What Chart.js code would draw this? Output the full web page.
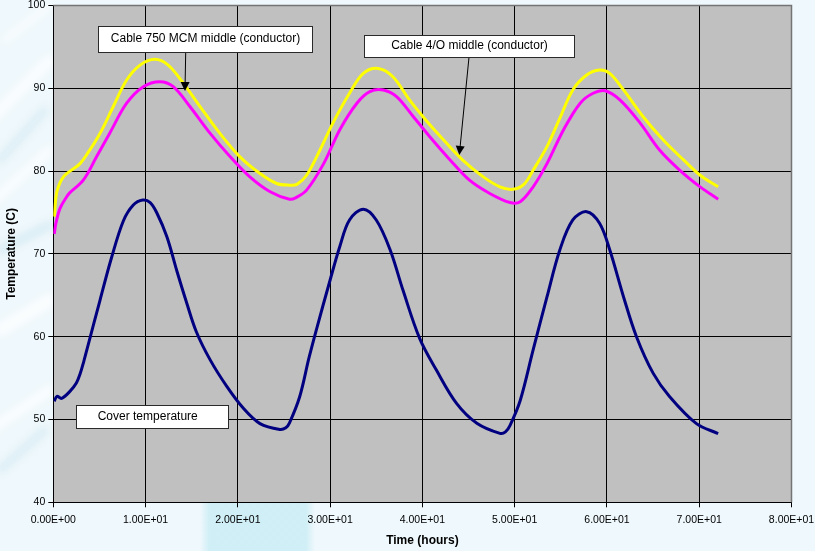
<!DOCTYPE html>
<html>
<head>
<meta charset="utf-8">
<title>Cable temperatures</title>
<script src="https://cdn.jsdelivr.net/npm/chart.js@4"></script>
<style>
  html, body { margin: 0; padding: 0; background: #eff8fc; }
  #wrap { width: 815px; height: 551px; position: relative; }
</style>
</head>
<body>
<div id="wrap"><canvas id="chart"></canvas></div>
<script>
// Cover temperature (C) against time (hours)
const coverTime = [0.1, 0.4, 0.9, 1.8, 2.5, 2.9, 3.3, 3.8, 5.06, 6.3, 7.6, 8.67, 9.7, 10.5, 11.2, 12.3, 13.4, 14.45, 15.5, 17.0, 18.8, 20.6, 22.4, 24.55, 25.2, 25.6, 26.7, 27.7, 28.5, 30.0, 31.05, 32.1, 33.6, 35.0, 36.5, 37.9, 39.7, 41.5, 43.7, 45.9, 48.4, 49.0, 49.5, 50.6, 52.0, 53.5, 54.9, 56.3, 57.8, 59.2, 60.3, 61.8, 63.2, 65.0, 66.8, 69.7, 72.05];
const coverTemp = [52.2, 52.8, 52.55, 53.4, 54.4, 55.5, 57.0, 59.1, 64.4, 69.5, 74.0, 75.9, 76.5, 76.2, 75.0, 72.1, 67.9, 64.1, 60.6, 57.2, 54.0, 51.35, 49.5, 48.8, 49.0, 49.6, 52.75, 57.4, 60.8, 66.85, 70.9, 74.1, 75.4, 74.1, 70.5, 65.6, 59.8, 56.0, 51.95, 49.55, 48.33, 48.5, 49.3, 52.3, 58.4, 64.8, 70.5, 74.1, 75.1, 73.7, 70.5, 64.8, 60.0, 55.6, 52.75, 49.5, 48.3];

// Cable 750 MCM, middle of the conductor
const mcmTime = [0.1, 0.35, 0.73, 1.1, 1.45, 2.2, 2.9, 3.6, 5.06, 6.5, 7.95, 9.4, 11.0, 12.45, 14.1, 15.9, 18.06, 20.2, 22.4, 24.2, 25.6, 26.4, 27.45, 28.9, 30.3, 32.1, 33.6, 35.2, 36.8, 38.6, 40.5, 42.3, 44.4, 46.6, 48.4, 49.8, 51.0, 52.0, 53.5, 54.9, 56.3, 57.8, 59.2, 60.3, 61.8, 63.9, 66.1, 68.3, 70.1, 72.05];
const mcmTemp = [74.5, 77.3, 78.6, 79.3, 79.7, 80.3, 80.9, 81.95, 84.55, 87.8, 91.0, 92.8, 93.5, 92.8, 90.6, 87.8, 84.55, 81.75, 79.7, 78.5, 78.3, 78.4, 79.5, 82.55, 85.8, 89.4, 91.8, 92.4, 91.4, 88.6, 86.0, 83.75, 81.3, 79.3, 78.1, 77.8, 78.4, 80.1, 82.95, 86.4, 89.8, 91.6, 92.2, 91.8, 89.8, 86.6, 83.75, 81.35, 79.5, 78.1];

// Cable 4/O, middle of the conductor
const awgTime = [0.1, 0.3, 0.73, 1.45, 1.8, 3.25, 4.7, 6.1, 7.95, 9.75, 11.55, 13.0, 14.8, 17.0, 19.15, 21.3, 23.5, 25.6, 26.3, 27.45, 29.3, 31.05, 32.9, 34.3, 35.75, 37.2, 39.0, 40.8, 43.0, 45.1, 47.3, 49.5, 50.6, 52.0, 53.5, 55.3, 57.1, 58.5, 59.8, 61.4, 63.6, 65.7, 67.9, 70.1, 72.05];
const awgTemp = [72.4, 73.8, 75.5, 76.9, 77.4, 78.9, 81.75, 84.55, 88.2, 90.2, 90.8, 90.2, 87.8, 84.55, 81.75, 79.3, 77.5, 76.6, 76.8, 77.7, 80.9, 85.0, 88.2, 89.6, 89.8, 89.0, 86.6, 84.15, 81.35, 78.9, 77.3, 76.2, 76.3, 78.1, 80.9, 85.0, 88.2, 89.4, 89.7, 88.6, 85.8, 82.55, 80.1, 78.1, 76.6];

// Axis ticks
const timeTicks = [0, 10, 20, 30, 40, 50, 60, 70, 80];
const timeTickLabels = ['0.00E+00', '1.00E+01', '2.00E+01', '3.00E+01', '4.00E+01', '5.00E+01', '6.00E+01', '7.00E+01', '8.00E+01'];
const tempTicks = [40, 50, 60, 70, 80, 90, 100];

const pairs = (xs, ys) => xs.map((x, i) => ({ x: x, y: ys[i] }));

// Callout boxes, placed in axis units (time, temperature)
const callouts = [
  { text: 'Cable 750 MCM middle (conductor)', box: [4.88, 97.56, 28.0, 94.42], textAt: 'center',
    arrow: [14.35, 94.42, 14.27, 89.67] },
  { text: 'Cable 4/O middle (conductor)', box: [33.7, 96.44, 56.46, 93.74], textAt: 'center',
    arrow: [45.05, 93.74, 44.0, 81.95] },
  { text: 'Cover temperature', box: [2.46, 51.75, 18.96, 49.0], textAt: 4.81, arrow: null }
];

const FONT = '"Liberation Sans", Arial, Helvetica, sans-serif';
Chart.defaults.font.family = FONT;
Chart.defaults.color = '#000';

const decor = {
  id: 'decor',
  beforeDraw(chart) {
    const { ctx, width, height, chartArea: a } = chart;
    ctx.save();
    ctx.fillStyle = '#eff8fc';
    ctx.fillRect(0, 0, width, height);
    // soft cyan band below the axis
    const g = ctx.createLinearGradient(200, 0, 315, 0);
    g.addColorStop(0, 'rgba(200,236,244,0)');
    g.addColorStop(0.08, 'rgba(200,236,244,0.8)');
    g.addColorStop(0.92, 'rgba(200,236,244,0.8)');
    g.addColorStop(1, 'rgba(200,236,244,0)');
    ctx.fillStyle = g;
    ctx.fillRect(200, a.bottom, 115, height - a.bottom);
    // faint streaks in the left margin
    ctx.filter = 'blur(4px)';
    ctx.lineCap = 'round';
    ctx.strokeStyle = 'rgba(255,255,255,0.8)';
    const streaks = [[-10, 120, 50, 60, 10], [-5, 200, 50, 150, 8], [0, 330, 50, 300, 12], [-10, 430, 50, 390, 9], [5, 40, 50, 5, 6]];
    streaks.forEach(s => { ctx.lineWidth = s[4]; ctx.beginPath(); ctx.moveTo(s[0], s[1]); ctx.lineTo(s[2], s[3]); ctx.stroke(); });
    ctx.strokeStyle = 'rgba(185,222,234,0.5)';
    const blue = [[0, 250, 50, 225, 7], [0, 160, 45, 110, 6], [0, 470, 45, 430, 6]];
    blue.forEach(s => { ctx.lineWidth = s[4]; ctx.beginPath(); ctx.moveTo(s[0], s[1]); ctx.lineTo(s[2], s[3]); ctx.stroke(); });
    ctx.filter = 'none';
    // plot area
    ctx.fillStyle = '#c0c0c0';
    ctx.fillRect(a.left, a.top, a.right - a.left, a.bottom - a.top);
    ctx.restore();
  },
  beforeDatasetsDraw(chart) {
    const { ctx, chartArea: a } = chart;
    ctx.save();
    ctx.strokeStyle = '#747474';
    ctx.lineWidth = 1.5;
    ctx.beginPath();
    ctx.moveTo(a.left, a.top);
    ctx.lineTo(a.right, a.top);
    ctx.lineTo(a.right, a.bottom);
    ctx.stroke();
    ctx.restore();
  },
  afterDatasetsDraw(chart) {
    const { ctx } = chart;
    const xs = chart.scales.x, ys = chart.scales.y;
    ctx.save();
    ctx.font = '12px ' + FONT;
    callouts.forEach(c => {
      const x0 = Math.round(xs.getPixelForValue(c.box[0])) + 0.5;
      const y0 = Math.round(ys.getPixelForValue(c.box[1])) + 0.5;
      const x1 = Math.round(xs.getPixelForValue(c.box[2])) + 0.5;
      const y1 = Math.round(ys.getPixelForValue(c.box[3])) + 0.5;
      if (c.arrow) {
        const ax0 = xs.getPixelForValue(c.arrow[0]), ay0 = ys.getPixelForValue(c.arrow[1]);
        const ax1 = xs.getPixelForValue(c.arrow[2]), ay1 = ys.getPixelForValue(c.arrow[3]);
        const ang = Math.atan2(ay1 - ay0, ax1 - ax0);
        const len = 9, half = 4.5;
        const bx = ax1 - len * Math.cos(ang), by = ay1 - len * Math.sin(ang);
        ctx.strokeStyle = '#000';
        ctx.lineWidth = 1;
        ctx.beginPath();
        ctx.moveTo(ax0, ay0);
        ctx.lineTo(bx, by);
        ctx.stroke();
        ctx.fillStyle = '#000';
        ctx.beginPath();
        ctx.moveTo(ax1, ay1);
        ctx.lineTo(bx + half * Math.sin(ang), by - half * Math.cos(ang));
        ctx.lineTo(bx - half * Math.sin(ang), by + half * Math.cos(ang));
        ctx.closePath();
        ctx.fill();
      }
      ctx.fillStyle = '#fff';
      ctx.fillRect(x0, y0, x1 - x0, y1 - y0);
      ctx.strokeStyle = '#2a2a2a';
      ctx.lineWidth = 1;
      ctx.strokeRect(x0, y0, x1 - x0, y1 - y0);
      ctx.fillStyle = '#000';
      ctx.textBaseline = 'middle';
      const ty = (y0 + y1) / 2 - 0.5;
      if (c.textAt === 'center') {
        ctx.textAlign = 'center';
        ctx.fillText(c.text, (x0 + x1) / 2, ty);
      } else {
        ctx.textAlign = 'left';
        ctx.fillText(c.text, xs.getPixelForValue(c.textAt), ty);
      }
    });
    ctx.restore();
  }
};

const lineStyle = { pointRadius: 0, borderWidth: 3, fill: false, tension: 0.35, borderJoinStyle: 'round' };

new Chart(document.getElementById('chart'), {
  type: 'line',
  data: {
    datasets: [
      Object.assign({ label: 'Cable 750 MCM middle (conductor)', data: pairs(mcmTime, mcmTemp), borderColor: '#ffff00' }, lineStyle),
      Object.assign({ label: 'Cable 4/O middle (conductor)', data: pairs(awgTime, awgTemp), borderColor: '#ff00ff' }, lineStyle),
      Object.assign({ label: 'Cover temperature', data: pairs(coverTime, coverTemp), borderColor: '#000080' }, lineStyle)
    ]
  },
  options: {
    responsive: true,
    maintainAspectRatio: false,
    animation: false,
    events: [],
    layout: { padding: { left: 0, right: 23.5, top: 5.5, bottom: 0 } },
    plugins: { legend: { display: false }, tooltip: { enabled: false } },
    scales: {
      x: {
        type: 'linear',
        min: 0, max: 80,
        afterBuildTicks(scale) { scale.ticks = timeTicks.map(v => ({ value: v })); },
        afterFit(scale) { scale.height = 48.7; scale.paddingLeft = 0; scale.paddingRight = 0; },
        ticks: {
          autoSkip: false, maxRotation: 0, minRotation: 0, padding: 6.4,
          font: { size: 10.5 }, color: '#000',
          callback: (v, i) => timeTickLabels[i]
        },
        grid: { color: '#000', lineWidth: 1, drawTicks: true, tickLength: 5, tickColor: '#000' },
        border: { color: '#000', width: 1 },
        title: { display: true, text: 'Time (hours)', font: { size: 12, weight: 'bold' }, color: '#000', padding: { top: 0, bottom: 3.1 } }
      },
      y: {
        type: 'linear',
        min: 40, max: 100,
        afterBuildTicks(scale) { scale.ticks = tempTicks.map(v => ({ value: v })); },
        afterFit(scale) { scale.width = 53.3; scale.paddingTop = 0; scale.paddingBottom = 0; },
        ticks: { padding: 3, font: { size: 10.5 }, color: '#000', callback: v => String(v) },
        grid: { color: '#000', lineWidth: 1, drawTicks: true, tickLength: 5, tickColor: '#000' },
        border: { color: '#000', width: 1 },
        title: { display: true, text: 'Temperature (C)', font: { size: 12, weight: 'bold' }, color: '#000', padding: { top: 4.5, bottom: 0 } }
      }
    }
  },
  plugins: [decor]
});
</script>
</body>
</html>
